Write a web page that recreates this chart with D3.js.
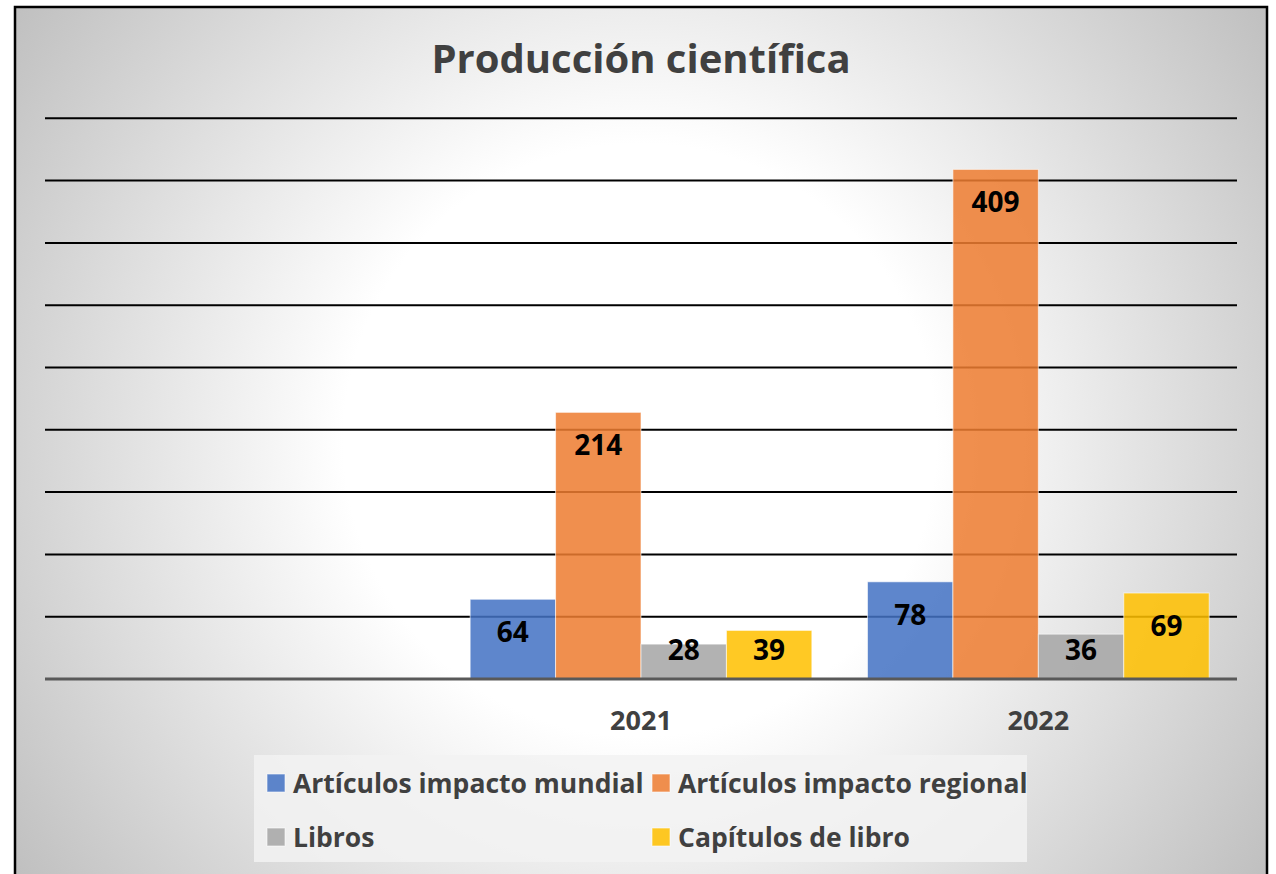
<!DOCTYPE html>
<html>
<head>
<meta charset="utf-8">
<script src="https://cdn.jsdelivr.net/npm/d3@7"></script>
<style>
  html, body { margin: 0; padding: 0; background: #fff; }
  text { font-family: "Open Sans", "Noto Sans", sans-serif; font-weight: bold; }
</style>
</head>
<body>
<svg id="chart" width="1276" height="874"></svg>
<script>
// data
const categories = ["", "2021", "2022"]
const seriesNames = ["Artículos impacto mundial", "Artículos impacto regional", "Libros", "Capítulos de libro"]
const mundial = [null, 64, 78]
const regional = [null, 214, 409]
const libros = [null, 28, 36]
const capitulos = [null, 39, 69]
const yTicks = [0, 50, 100, 150, 200, 250, 300, 350, 400, 450]
const title = "Producción científica"

const colors = ["#4472C4", "#ED7D31", "#A5A5A5", "#FFC000"]
const seriesValues = [mundial, regional, libros, capitulos]

const svg = d3.select("#chart")

// radial background like the office chart area
const defs = svg.append("defs")
const grad = defs.append("radialGradient")
    .attr("id", "bg")
    .attr("gradientUnits", "userSpaceOnUse")
    .attr("cx", 640).attr("cy", 440).attr("r", 780)
grad.append("stop").attr("offset", 0).attr("stop-color", "#ffffff")
grad.append("stop").attr("offset", 0.38).attr("stop-color", "#ffffff")
grad.append("stop").attr("offset", 1).attr("stop-color", "#bdbdbd")

svg.append("rect")
    .attr("x", 15).attr("y", 7)
    .attr("width", 1252).attr("height", 900)
    .attr("fill", "url(#bg)")
    .attr("stroke", "#000")
    .attr("stroke-width", 2.5)

const plot = {left: 45, right: 1237, top: 118.3, bottom: 679}

const x = d3.scaleBand()
    .domain(categories)
    .range([plot.left, plot.right])
    .paddingInner(0.14)
    .paddingOuter(0.07)

const xs = d3.scaleBand()
    .domain(seriesNames)
    .range([0, x.bandwidth()])

const y = d3.scaleLinear()
    .domain([0, 450])
    .range([plot.bottom, plot.top])

// gridlines
svg.append("g")
    .selectAll("line")
    .data(yTicks.filter(d => d > 0))
    .enter()
    .append("line")
    .attr("x1", plot.left).attr("x2", plot.right)
    .attr("y1", d => y(d)).attr("y2", d => y(d))
    .attr("stroke", "#000")
    .attr("stroke-width", 2)

// bars
const rows = []
categories.forEach((c, i) => {
  seriesNames.forEach((s, j) => {
    if (seriesValues[j][i] != null) rows.push({cat: c, series: s, value: seriesValues[j][i], color: colors[j]})
  })
})

svg.append("g")
    .selectAll("rect")
    .data(rows)
    .enter()
    .append("rect")
    .attr("x", d => x(d.cat) + xs(d.series))
    .attr("y", d => y(d.value))
    .attr("width", xs.bandwidth())
    .attr("height", d => y(0) - y(d.value))
    .attr("fill", d => d.color)
    .attr("fill-opacity", 0.86)
    .attr("stroke", "#fff")
    .attr("stroke-opacity", 0.6)
    .attr("stroke-width", 1)

// x axis line
svg.append("line")
    .attr("x1", plot.left).attr("x2", plot.right)
    .attr("y1", y(0)).attr("y2", y(0))
    .attr("stroke", "#595959")
    .attr("stroke-width", 3)

// data labels, inside end
svg.append("g")
    .selectAll("text")
    .data(rows)
    .enter()
    .append("text")
    .attr("x", d => x(d.cat) + xs(d.series) + xs.bandwidth() / 2)
    .attr("y", d => Math.min(y(d.value) + 33, y(0) - 29))
    .attr("dy", "0.36em")
    .attr("text-anchor", "middle")
    .attr("font-size", 28)
    .attr("fill", "#000")
    .text(d => d.value)

// category labels
svg.append("g")
    .selectAll("text")
    .data(categories)
    .enter()
    .append("text")
    .attr("x", d => x(d) + x.bandwidth() / 2)
    .attr("y", 720)
    .attr("dy", "0.36em")
    .attr("text-anchor", "middle")
    .attr("font-size", 27)
    .attr("fill", "#404040")
    .text(d => d)

// title
svg.append("text")
    .attr("x", 641)
    .attr("y", 73)
    .attr("text-anchor", "middle")
    .attr("font-size", 40)
    .attr("fill", "#404040")
    .text(title)

// legend
const legend = svg.append("g")
legend.append("rect")
    .attr("x", 254).attr("y", 755)
    .attr("width", 773).attr("height", 107)
    .attr("fill", "#f2f2f2")
    .attr("fill-opacity", 0.85)

const legendCols = [267, 652]
const legendRows = [783, 837]
const item = legend.selectAll(".item")
    .data(seriesNames)
    .enter()
    .append("g")
    .attr("class", "item")
    .attr("transform", (d, i) => "translate(" + legendCols[i % 2] + "," + legendRows[Math.floor(i / 2)] + ")")

item.append("rect")
    .attr("x", 0).attr("y", -9)
    .attr("width", 18).attr("height", 18)
    .attr("fill", (d, i) => colors[i])
    .attr("fill-opacity", 0.86)
    .attr("stroke", "#fff")
    .attr("stroke-opacity", 0.6)

item.append("text")
    .attr("x", 26)
    .attr("dy", "0.36em")
    .attr("font-size", 26.5)
    .attr("fill", "#404040")
    .text(d => d)
</script>
</body>
</html>
